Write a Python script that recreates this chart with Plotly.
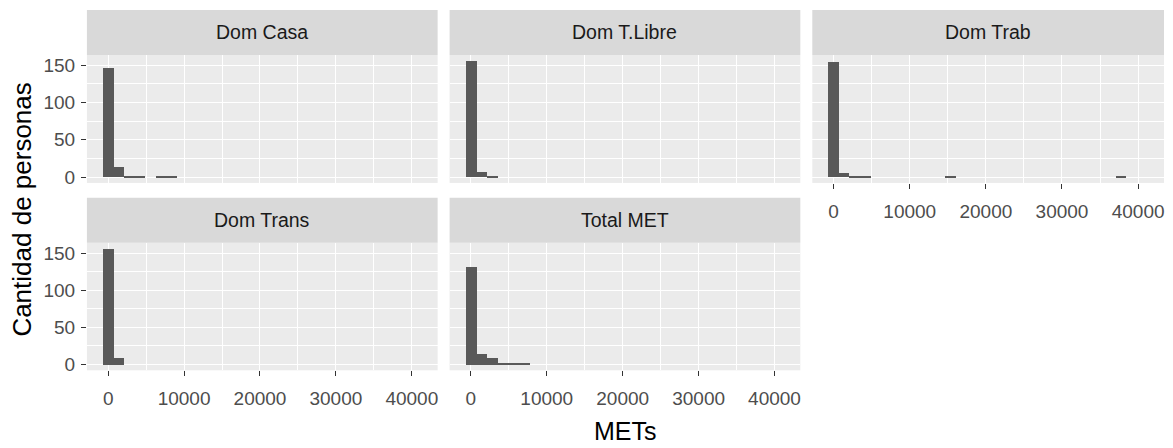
import plotly.graph_objects as go

W, H = 1173, 448

# ---- data ----
facets = ["Dom Casa", "Dom T.Libre", "Dom Trab", "Dom Trans", "Total MET"]
bin_width = 1400  # METs per bin (30 bins, centred at 0)
n_bins = 30
dom_casa = [146, 14, 2, 2, 0, 2, 2] + [0] * 23
dom_tlibre = [156, 7, 2] + [0] * 27
dom_trab = [154, 6, 2, 2, 0, 0, 0, 0, 0, 0, 0, 2] + [0] * 15 + [2, 0, 0]
dom_trans = [156, 9] + [0] * 28
total_met = [132, 15, 9, 3, 3, 3] + [0] * 24
counts = [dom_casa, dom_tlibre, dom_trab, dom_trans, total_met]
x_ticks = [0, 10000, 20000, 30000, 40000]
x_tick_labels = ["0", "10000", "20000", "30000", "40000"]
y_ticks = [0, 50, 100, 150]
y_tick_labels = ["0", "50", "100", "150"]

bin_centers = [k * bin_width for k in range(n_bins)]
x_lo = -0.5 * bin_width
x_hi = (n_bins - 0.5) * bin_width
x_range = [x_lo - 0.05 * (x_hi - x_lo), x_hi + 0.05 * (x_hi - x_lo)]
y_max = max(max(c) for c in counts)
y_range = [-0.05 * y_max, 1.05 * y_max]

# ---- layout in pixels ----
cols = [(87, 438), (450, 801), (813, 1165)]
rows = [(10, 55.5, 185), (200, 245.5, 374.5)]  # strip top, panel top, panel bottom
pos = [(0, 0), (0, 1), (0, 2), (1, 0), (1, 1)]

def fx(px):
    return px / W

def fy(py):
    return 1 - py / H

FAM = "Liberation Sans, Arial, sans-serif"
TICK_FONT = dict(family=FAM, size=19, color="#4D4D4D")
STRIP_FONT = dict(family=FAM, size=19.5, color="#1A1A1A")

fig = go.Figure()
layout = dict(
    width=W, height=H, margin=dict(l=0, r=0, t=0, b=0),
    paper_bgcolor="white", plot_bgcolor="#EBEBEB", showlegend=False, bargap=0,
)
shapes, annotations = [], []
for i, (name, c) in enumerate(zip(facets, counts)):
    r, col = pos[i]
    sfx = "" if i == 0 else str(i + 1)
    fig.add_trace(go.Bar(
        x=bin_centers, y=c, width=bin_width, marker=dict(color="#595959", line=dict(width=0)),
        xaxis="x" + sfx, yaxis="y" + sfx, hoverinfo="x+y",
    ))
    x0, x1 = cols[col]
    st, pt, pb = rows[r]
    show_x = (r == 1) or (i == 2)
    show_y = col == 0
    layout["xaxis" + sfx] = dict(
        domain=[fx(x0), fx(x1)], anchor="y" + sfx, range=x_range,
        tickvals=x_ticks, ticktext=x_tick_labels,
        showticklabels=show_x, ticks="outside" if show_x else "",
        ticklen=5, tickwidth=1, tickcolor="#333333", tickfont=TICK_FONT,
        ticklabelstandoff=6,
        showgrid=True, gridcolor="white", gridwidth=1.3, zeroline=False, showline=False,
        minor=dict(dtick=5000, tick0=5000, showgrid=True, gridcolor="white", gridwidth=0.7),
        fixedrange=True,
    )
    layout["yaxis" + sfx] = dict(
        domain=[fy(pb), fy(pt)], anchor="x" + sfx, range=y_range,
        tickvals=y_ticks, ticktext=y_tick_labels,
        showticklabels=show_y, ticks="outside" if show_y else "",
        ticklen=5, tickwidth=1, tickcolor="#333333", tickfont=TICK_FONT,
        ticklabelstandoff=2,
        showgrid=True, gridcolor="white", gridwidth=1.3, zeroline=False, showline=False,
        minor=dict(dtick=50, tick0=25, showgrid=True, gridcolor="white", gridwidth=0.7),
        fixedrange=True,
    )
    shapes.append(dict(type="rect", xref="paper", yref="paper",
                       x0=fx(x0), x1=fx(x1), y0=fy(pt), y1=fy(st),
                       fillcolor="#D9D9D9", line=dict(width=0), layer="below"))
    annotations.append(dict(text=name, xref="paper", yref="paper",
                            x=fx((x0 + x1) / 2), y=fy((st + pt) / 2),
                            xanchor="center", yanchor="middle", showarrow=False, font=STRIP_FONT))

annotations.append(dict(text="METs", xref="paper", yref="paper", x=fx(626), y=fy(436),
                        xanchor="center", yanchor="middle", showarrow=False,
                        font=dict(family=FAM, size=25, color="black")))
annotations.append(dict(text="Cantidad de personas", xref="paper", yref="paper", x=fx(22), y=fy(212),
                        xanchor="center", yanchor="middle", showarrow=False, textangle=-90,
                        font=dict(family=FAM, size=26, color="black")))
layout["shapes"] = shapes
layout["annotations"] = annotations
fig.update_layout(**layout)
fig.write_html("out.html")
